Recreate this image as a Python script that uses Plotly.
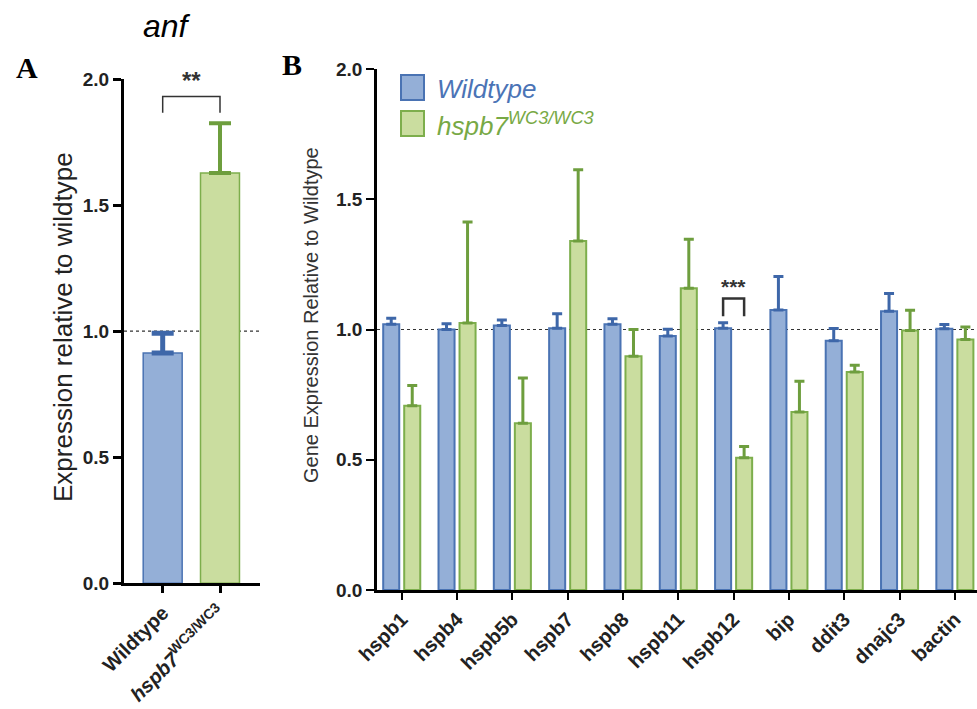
import plotly.graph_objects as go

# ---------------- data ----------------
anf_groups = ["Wildtype", "hspb7 WC3/WC3"]
anf_means = [0.913, 1.627]
anf_err = [0.079, 0.198]
anf_sig = "**"

genes = ["hspb1", "hspb4", "hspb5b", "hspb7", "hspb8", "hspb11",
         "hspb12", "bip", "ddit3", "dnajc3", "bactin"]
wt_mean = [1.020, 1.000, 1.015, 1.005, 1.020, 0.975, 1.005, 1.075, 0.957, 1.070, 1.003]
wt_err = [0.023, 0.022, 0.021, 0.055, 0.021, 0.026, 0.021, 0.128, 0.047, 0.068, 0.016]
mut_mean = [0.707, 1.025, 0.640, 1.340, 0.897, 1.158, 0.508, 0.683, 0.837, 0.996, 0.962]
mut_err = [0.078, 0.388, 0.174, 0.273, 0.103, 0.188, 0.043, 0.118, 0.026, 0.078, 0.048]
sig_gene = "hspb12"
sig_label = "***"

y_ticks = [0.0, 0.5, 1.0, 1.5, 2.0]

# ---------------- style ----------------
W, H = 977, 709
BLUE_FILL, BLUE_EDGE, BLUE_ERR = "#94afd7", "#4a73b3", "#3e67a9"
GREEN_FILL, GREEN_EDGE, GREEN_ERR = "#cadd9f", "#7dae4c", "#6e9e3e"
FONT = "Liberation Sans"


def px_x(p):
    return p / W


def px_y(p):
    return 1 - p / H


fig = go.Figure()

# Panel A
anf_colors = [(BLUE_FILL, BLUE_EDGE, BLUE_ERR, 5), (GREEN_FILL, GREEN_EDGE, GREEN_ERR, 4)]
for i, g in enumerate(anf_groups):
    fc, ec, errc, th = anf_colors[i]
    fig.add_trace(go.Bar(
        x=[g], y=[anf_means[i]], xaxis="x", yaxis="y",
        width=0.68, offset=-0.34,
        marker=dict(color=fc, line=dict(color=ec, width=1.5)),
        error_y=dict(type="data", array=[anf_err[i]], arrayminus=[0], symmetric=False,
                     color=errc, thickness=th, width=11),
        showlegend=False, hoverinfo="skip"))

# Panel B
BW = 0.29
fig.add_trace(go.Bar(
    x=genes, y=wt_mean, xaxis="x2", yaxis="y2", name="Wildtype",
    width=BW, offset=-0.19 - BW / 2,
    marker=dict(color=BLUE_FILL, line=dict(color=BLUE_EDGE, width=2)),
    error_y=dict(type="data", array=wt_err, arrayminus=[0] * len(genes), symmetric=False,
                 color=BLUE_ERR, thickness=3, width=5),
    showlegend=False, hoverinfo="skip"))
fig.add_trace(go.Bar(
    x=genes, y=mut_mean, xaxis="x2", yaxis="y2", name="hspb7",
    width=BW, offset=0.19 - BW / 2,
    marker=dict(color=GREEN_FILL, line=dict(color=GREEN_EDGE, width=2)),
    error_y=dict(type="data", array=mut_err, arrayminus=[0] * len(genes), symmetric=False,
                 color=GREEN_ERR, thickness=3, width=5),
    showlegend=False, hoverinfo="skip"))

tickfont = dict(family=FONT, size=19, color="#222222", weight="bold")
xtickfont = dict(family=FONT, size=20, color="#222222")

yax_common = dict(range=[0, 2.0], tickvals=y_ticks, ticktext=[f"{v:.1f}" for v in y_ticks],
                  showline=True, linecolor="black", ticks="outside", tickcolor="black",
                  showgrid=False, zeroline=False, tickfont=tickfont, fixedrange=True,
                  automargin=False)

fig.update_layout(
    width=W, height=H, margin=dict(l=0, r=0, t=0, b=0, autoexpand=False),
    paper_bgcolor="white", plot_bgcolor="rgba(0,0,0,0)",
    barmode="overlay", showlegend=False,
    xaxis=dict(domain=[px_x(124), px_x(260)], range=[-0.675, 1.698],
               tickvals=anf_groups,
               ticktext=["<b>Wildtype</b>", "<b><i>hspb7</i><sup>WC3/WC3</sup></b>"],
               tickangle=-45, showline=True, linecolor="black", linewidth=3,
               ticks="outside", ticklen=7, tickwidth=2.5, tickcolor="black",
               showgrid=False, zeroline=False, automargin=False,
               tickfont=xtickfont, anchor="y"),
    yaxis=dict(domain=[px_y(583.3), px_y(79)], linewidth=3, ticklen=8, tickwidth=2.5,
               anchor="x", **yax_common),
    xaxis2=dict(domain=[px_x(377), 1.0], range=[-0.447, 10.40],
                tickvals=genes, ticktext=[f"<b>{g}</b>" for g in genes],
                tickangle=-45, showline=True, linecolor="black", linewidth=2.5,
                ticks="outside", ticklen=7, tickwidth=2, tickcolor="black",
                showgrid=False, zeroline=False, automargin=False,
                tickfont=xtickfont, anchor="y2"),
    yaxis2=dict(domain=[px_y(590), px_y(69)], linewidth=2.5, ticklen=8, tickwidth=2,
                anchor="x2", **yax_common),
)

# dotted reference lines at 1.0
for xr, yr in [("x domain", "y"), ("x2 domain", "y2")]:
    fig.add_shape(type="line", xref=xr, yref=yr, x0=0, x1=1, y0=1.0, y1=1.0,
                  line=dict(color="#333333", width=1.2, dash="dot"), layer="below")

# significance brackets
BR = "#333333"
fig.add_shape(type="path", xref="x", yref="y",
              path="M 0,1.866 L 0,1.931 L 1,1.931 L 1,1.866",
              line=dict(color=BR, width=1.5))
fig.add_annotation(x=0.5, y=1.995, xref="x", yref="y", text=anf_sig, showarrow=False,
                   xanchor="center", yanchor="middle",
                   font=dict(family=FONT, size=24, color=BR, weight="bold"))

gi = genes.index(sig_gene)
fig.add_shape(type="path", xref="x2", yref="y2",
              path=f"M {gi-0.19},1.051 L {gi-0.19},1.119 L {gi+0.19},1.119 L {gi+0.19},1.051",
              line=dict(color=BR, width=2.5))
fig.add_annotation(x=gi, y=1.165, xref="x2", yref="y2", text=sig_label, showarrow=False,
                   xanchor="center", yanchor="middle",
                   font=dict(family=FONT, size=21, color=BR, weight="bold"))


def paper_text(xp, yp, text, font, angle=0, xanchor="center"):
    fig.add_annotation(x=px_x(xp), y=px_y(yp), xref="paper", yref="paper",
                       text=text, textangle=angle, showarrow=False,
                       xanchor=xanchor, yanchor="middle", font=font)


# y titles
paper_text(63, 327, "Expression relative to wildtype",
           dict(family=FONT, size=26, color="#222222"), angle=-90)
paper_text(311, 315, "Gene Expression Relative to Wildtype",
           dict(family=FONT, size=20, color="#333333"), angle=-90)

# title anf and panel letters
paper_text(167, 26, "<i>anf</i>", dict(family=FONT, size=32, color="black"))
paper_text(27, 68, "<b>A</b>", dict(family="Liberation Serif", size=30, color="black"))
paper_text(292, 65, "<b>B</b>", dict(family="Liberation Serif", size=30, color="black"))

# legend
legend_items = [("<i>Wildtype</i>", BLUE_FILL, BLUE_EDGE, "#4b74b6", 75, 100),
                ("<i>hspb7<sup>WC3/WC3</sup></i>", GREEN_FILL, GREEN_EDGE, "#78a945", 111, 136)]
for txt, fc, ec, tc, y0, y1 in legend_items:
    fig.add_shape(type="rect", xref="paper", yref="paper",
                  x0=px_x(401), x1=px_x(424), y0=px_y(y1), y1=px_y(y0),
                  fillcolor=fc, line=dict(color=ec, width=2))
    paper_text(435, (y0 + y1) / 2 + 1, txt, dict(family=FONT, size=26, color=tc),
               xanchor="left")

fig.write_html("out.html", post_script="document.body.style.margin='0';",
               config={"displayModeBar": False})
